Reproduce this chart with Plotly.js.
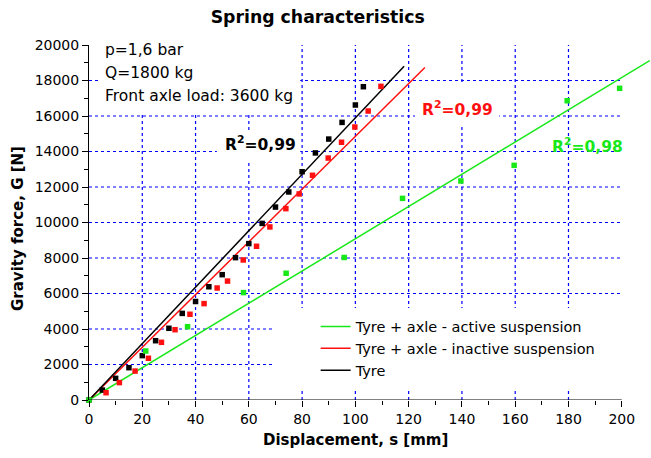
<!DOCTYPE html>
<html>
<head>
<meta charset="utf-8">
<script src="https://cdn.plot.ly/plotly-3.0.1.min.js"></script>
<style>html,body{margin:0;padding:0;background:#fff;}#chart{width:651px;height:458px;}</style>
</head>
<body>
<div id="chart"></div>
<script>
// ---- data ----
const tyreS = [0,5,10,15,20,25,30,35,40,45,50,55,60,65,70,75,80,85,90,95,100,103];
const tyreG = [0,560,1220,1820,2500,3340,4040,4880,5550,6380,7060,8020,8810,9950,10870,11720,12860,13920,14700,15640,16620,17650];

const inactiveS = [6.4,11.4,17.3,22.3,27.2,32.3,37.9,43.2,48.1,52.0,57.9,62.9,67.9,73.9,78.9,83.9,89.8,94.8,99.8,104.8,109.6];
const inactiveG = [410,980,1630,2350,3250,3960,4830,5430,6310,6700,7890,8660,9750,10780,11610,12660,13630,14520,15380,16280,17670];

const activeS = [0,21.3,37,58,74,95.8,117.7,139.6,159.6,179.5,199.2];
const activeG = [0,2760,4130,6050,7140,8030,11360,12340,13220,16860,17560];

// regression lines (start/end)
const tyreFitS = [0,118.3];      const tyreFitG = [0,18800];
const inactiveFitS = [0,126.1];  const inactiveFitG = [0,18730];
const activeFitS = [0,210.5];    const activeFitG = [0,19120];

const legendNames = ['Tyre + axle - active suspension','Tyre + axle - inactive suspension','Tyre'];
const r2Labels = ['R<sup>2</sup>=0,99','R<sup>2</sup>=0,99','R<sup>2</sup>=0,98'];
const infoLines = ['p=1,6 bar','Q=1800 kg','Front axle load: 3600 kg'];
const xTicks = [0,20,40,60,80,100,120,140,160,180,200];
const xMinor = [10,30,50,70,90,110,130,150,170,190];
const yTicks = [0,2000,4000,6000,8000,10000,12000,14000,16000,18000,20000];
const xGrid = [20,40,60,80,100,120,140,160,180];
const yGrid = [2000,4000,6000,8000,10000,12000,14000,16000,18000];

const GREEN = '#18e818', RED = '#ff1010', BLACK = '#000000';
const FONT = 'DejaVu Sans, Verdana, sans-serif';

const traces = [
  {x: activeFitS, y: activeFitG, mode:'lines', line:{color:GREEN, width:1.5}, name: legendNames[0], cliponaxis:false},
  {x: inactiveFitS, y: inactiveFitG, mode:'lines', line:{color:RED, width:1.5}, name: legendNames[1]},
  {x: tyreFitS, y: tyreFitG, mode:'lines', line:{color:BLACK, width:1.5}, name: legendNames[2]},
  {x: tyreS, y: tyreG, mode:'markers', marker:{symbol:'square', size:5.5, color:BLACK}, showlegend:false, cliponaxis:false},
  {x: inactiveS, y: inactiveG, mode:'markers', marker:{symbol:'square', size:5.5, color:RED}, showlegend:false, cliponaxis:false},
  {x: activeS, y: activeG, mode:'markers', marker:{symbol:'square', size:5.5, color:GREEN}, showlegend:false, cliponaxis:false}
];

const shapes = [];
xGrid.forEach(v => shapes.push({type:'line', layer:'below', xref:'x', yref:'y', x0:v, x1:v, y0:0, y1:20000,
  line:{color:'#0000ff', width:1.2, dash:'dot'}}));
yGrid.forEach(v => shapes.push({type:'line', layer:'below', xref:'x', yref:'y', x0:0, x1:200, y0:v, y1:v,
  line:{color:'#0000ff', width:1.2, dash:'dot'}}));
// white boxes behind text blocks (gaps in the grid)
const boxes = [
  [3.5, 79.3, 16060, 20500],   // info text
  [48.0, 79.3, 13350, 15100],  // black R2
  [122.4, 154.0, 15380, 17900],// red R2
  [69.5, 200, 560, 5180]       // legend
];
boxes.forEach(b => shapes.push({type:'rect', layer:'below', xref:'x', yref:'y', x0:b[0], x1:b[1], y0:b[2], y1:b[3],
  fillcolor:'#ffffff', line:{width:0}}));
// x axis line only up to 200
shapes.push({type:'line', layer:'above', xref:'x', yref:'y', x0:0, x1:200, y0:0, y1:0, line:{color:'#000', width:1}});

const infoY = [19700, 18400, 17100];
const annotations = infoLines.map((t,i) => ({xref:'x', yref:'y', x:5.25, y:infoY[i], text:t, showarrow:false,
  xanchor:'left', yanchor:'middle', font:{family:FONT, size:15.5, color:'#000'}}));
annotations.push(
  {xref:'x', yref:'y', x:64.4, y:14450, text:'<b>'+r2Labels[0]+'</b>', showarrow:false, font:{family:FONT, size:15.5, color:BLACK}},
  {xref:'x', yref:'y', x:138.3, y:16450, text:'<b>'+r2Labels[1]+'</b>', showarrow:false, font:{family:FONT, size:15.5, color:RED}},
  {xref:'x', yref:'y', x:187, y:14350, text:'<b>'+r2Labels[2]+'</b>', showarrow:false, font:{family:FONT, size:15.5, color:GREEN}},
  {xref:'paper', yref:'paper', x:-0.1266, y:0.4845, xanchor:'center', yanchor:'middle', text:'<b>Gravity force, G [N]</b>', textangle:-90, showarrow:false, font:{family:FONT, size:15, color:'#000'}},
  {xref:'x', yref:'paper', x:100, y:-0.113, xanchor:'center', yanchor:'middle', text:'<b>Displacement, s [mm]</b>', showarrow:false, font:{family:FONT, size:15, color:'#000'}}
);

const layout = {
  width:651, height:458,
  margin:{l:89, r:1, t:45, b:58},
  paper_bgcolor:'#fff', plot_bgcolor:'#fff',
  font:{family:FONT, size:14, color:'#000'},
  title:{text:'<b>Spring characteristics</b>', x:0.488, xref:'container', y:0.963, yref:'container', xanchor:'center', yanchor:'middle', font:{family:FONT, size:17.3, color:'#000'}},
  xaxis:{range:[0,210.6], showgrid:false, zeroline:false, showline:false, tickmode:'array', tickvals:xTicks,
    ticks:'outside', ticklen:6, tickcolor:'#000', tickwidth:1, tickfont:{family:FONT, size:14},
    minor:{tickmode:'array', tickvals:xMinor, ticks:'outside', ticklen:4, tickcolor:'#000', showgrid:false}},
  yaxis:{range:[0,20000], showgrid:false, zeroline:false, showline:true, linecolor:'#000', linewidth:1, tickmode:'array', tickvals:yTicks,
    tickformat:'d', ticks:'outside', ticklen:6, tickcolor:'#000', tickwidth:1, tickfont:{family:FONT, size:14},
    minor:{dtick:1000, ticks:'outside', ticklen:4, tickcolor:'#000', showgrid:false}},
  showlegend:true,
  legend:{x:0.404, y:0.252, xanchor:'left', yanchor:'top', bgcolor:'rgba(0,0,0,0)', borderwidth:0,
    font:{family:FONT, size:14.5, color:'#000'}, tracegroupgap:0},
  shapes: shapes,
  annotations: annotations
};

Plotly.newPlot('chart', traces, layout, {displayModeBar:false, staticPlot:true});
</script>
</body>
</html>
